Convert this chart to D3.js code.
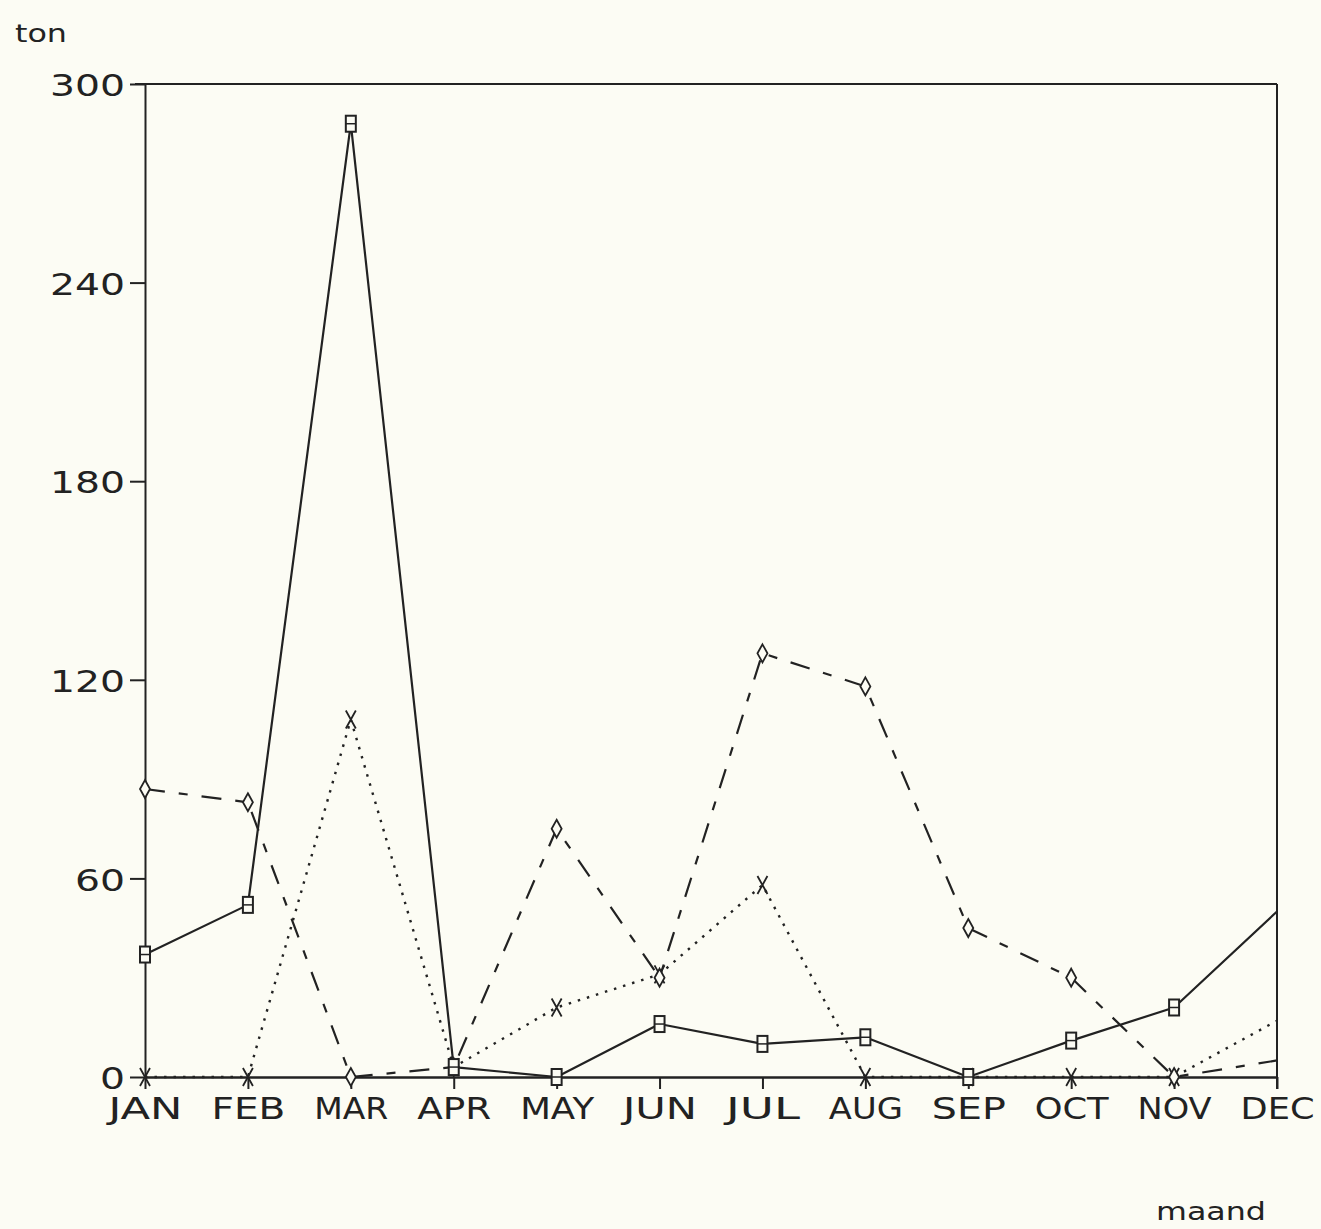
<!DOCTYPE html>
<html><head><meta charset="utf-8">
<script src="https://cdn.jsdelivr.net/npm/d3@7"></script>
<style>
html,body{margin:0;padding:0;background:#fcfcf4;}
svg{display:block;}
text{font-family:"DejaVu Sans",sans-serif;fill:#222;}
</style></head>
<body>
<svg id="chart" width="1321" height="1229"></svg>
<script>
const months = ["JAN","FEB","MAR","APR","MAY","JUN","JUL","AUG","SEP","OCT","NOV","DEC"];
const yTicks = [0,60,120,180,240,300];
const solidSquares = [37,52,288,3,0,16,10,12,0,11,21,50];
const dashDiamonds = [87,83,0,3,75,30,128,118,45,30,0,5];
const dotCrosses = [0,0,108,3,21,31,58,0,0,0,0,17];
const yTitle = "ton";
const xTitle = "maand";

(function(){
const svg = d3.select("#chart");
const pLeft = 145, pRight = 1277, pTop = 84, pBottom = 1077;
const ink = "#222";
const bg = "#fcfcf4";

const x = d3.scalePoint().domain(months).range([pLeft, pRight]);
const y = d3.scaleLinear().domain([0,300]).range([pBottom, pTop]);

// frame top and right
svg.append("line").attr("x1",pLeft-10).attr("x2",pRight).attr("y1",pTop).attr("y2",pTop)
  .attr("stroke",ink).attr("stroke-width",2);
svg.append("line").attr("x1",pRight).attr("x2",pRight).attr("y1",pTop).attr("y2",pBottom+12)
  .attr("stroke",ink).attr("stroke-width",2);

// y axis
const yAxis = d3.axisLeft(y).tickValues(yTicks).tickSize(15).tickPadding(5).tickSizeOuter(0);
const gy = svg.append("g").attr("transform",`translate(${pLeft},0)`).call(yAxis);
gy.attr("font-family",null);
gy.select(".domain").attr("stroke",ink).attr("stroke-width",2);
gy.selectAll(".tick line").attr("stroke",ink).attr("stroke-width",2);
gy.selectAll(".tick text").attr("font-size",31).attr("fill",ink).attr("dy","0.38em")
  .attr("textLength", d => String(d).length*25).attr("lengthAdjust","spacingAndGlyphs");

// x axis
const xAxis = d3.axisBottom(x).tickSize(12).tickPadding(10).tickSizeOuter(0);
const gx = svg.append("g").attr("transform",`translate(0,${pBottom})`).call(xAxis);
gx.attr("font-family",null);
gx.select(".domain").attr("stroke",ink).attr("stroke-width",2.5);
gx.selectAll(".tick line").attr("stroke",ink).attr("stroke-width",2);
gx.selectAll(".tick text").attr("font-size",30).attr("fill",ink).attr("y",21).attr("dy","0.71em")
  .attr("textLength",74).attr("lengthAdjust","spacingAndGlyphs");

// titles
svg.append("text").attr("x",15).attr("y",42).attr("font-size",24).text(yTitle)
  .attr("textLength",52).attr("lengthAdjust","spacingAndGlyphs");
svg.append("text").attr("x",1156).attr("y",1220).attr("font-size",25).text(xTitle)
  .attr("textLength",110).attr("lengthAdjust","spacingAndGlyphs");

const line = d3.line().x((d,i)=>x(months[i])).y(d=>y(d));

function drawSeries(data, dash, width, marker){
  svg.append("path").datum(data).attr("d",line).attr("fill","none")
    .attr("stroke",ink).attr("stroke-width",width)
    .attr("stroke-dasharray",dash).attr("stroke-linejoin","round");
  const g = svg.append("g");
  data.forEach((v,i)=>{
    if(i === data.length-1) return; // markers beyond the last tick are not plotted
    const cx = x(months[i]), cy = y(v);
    if(marker==="square"){
      g.append("rect").attr("x",cx-5).attr("y",cy-8).attr("width",10).attr("height",16)
        .attr("fill",bg).attr("stroke",ink).attr("stroke-width",2);
      g.append("line").attr("x1",cx-5).attr("x2",cx+5).attr("y1",cy).attr("y2",cy)
        .attr("stroke",ink).attr("stroke-width",1.5);
    } else if(marker==="diamond"){
      g.append("path").attr("d",`M${cx},${cy-9}L${cx+5},${cy}L${cx},${cy+9}L${cx-5},${cy}Z`)
        .attr("fill",bg).attr("stroke",ink).attr("stroke-width",1.8);
    } else {
      g.append("path").attr("d",`M${cx-5},${cy-9}L${cx+5},${cy+9}M${cx+5},${cy-9}L${cx-5},${cy+9}`)
        .attr("fill","none").attr("stroke",ink).attr("stroke-width",1.8);
    }
  });
}

drawSeries(dotCrosses, "2.5,7", 2.4, "cross");
drawSeries(dashDiamonds, "20,14,9,14", 2.2, "diamond");
drawSeries(solidSquares, null, 2.2, "square");
})();
</script>
</body></html>
